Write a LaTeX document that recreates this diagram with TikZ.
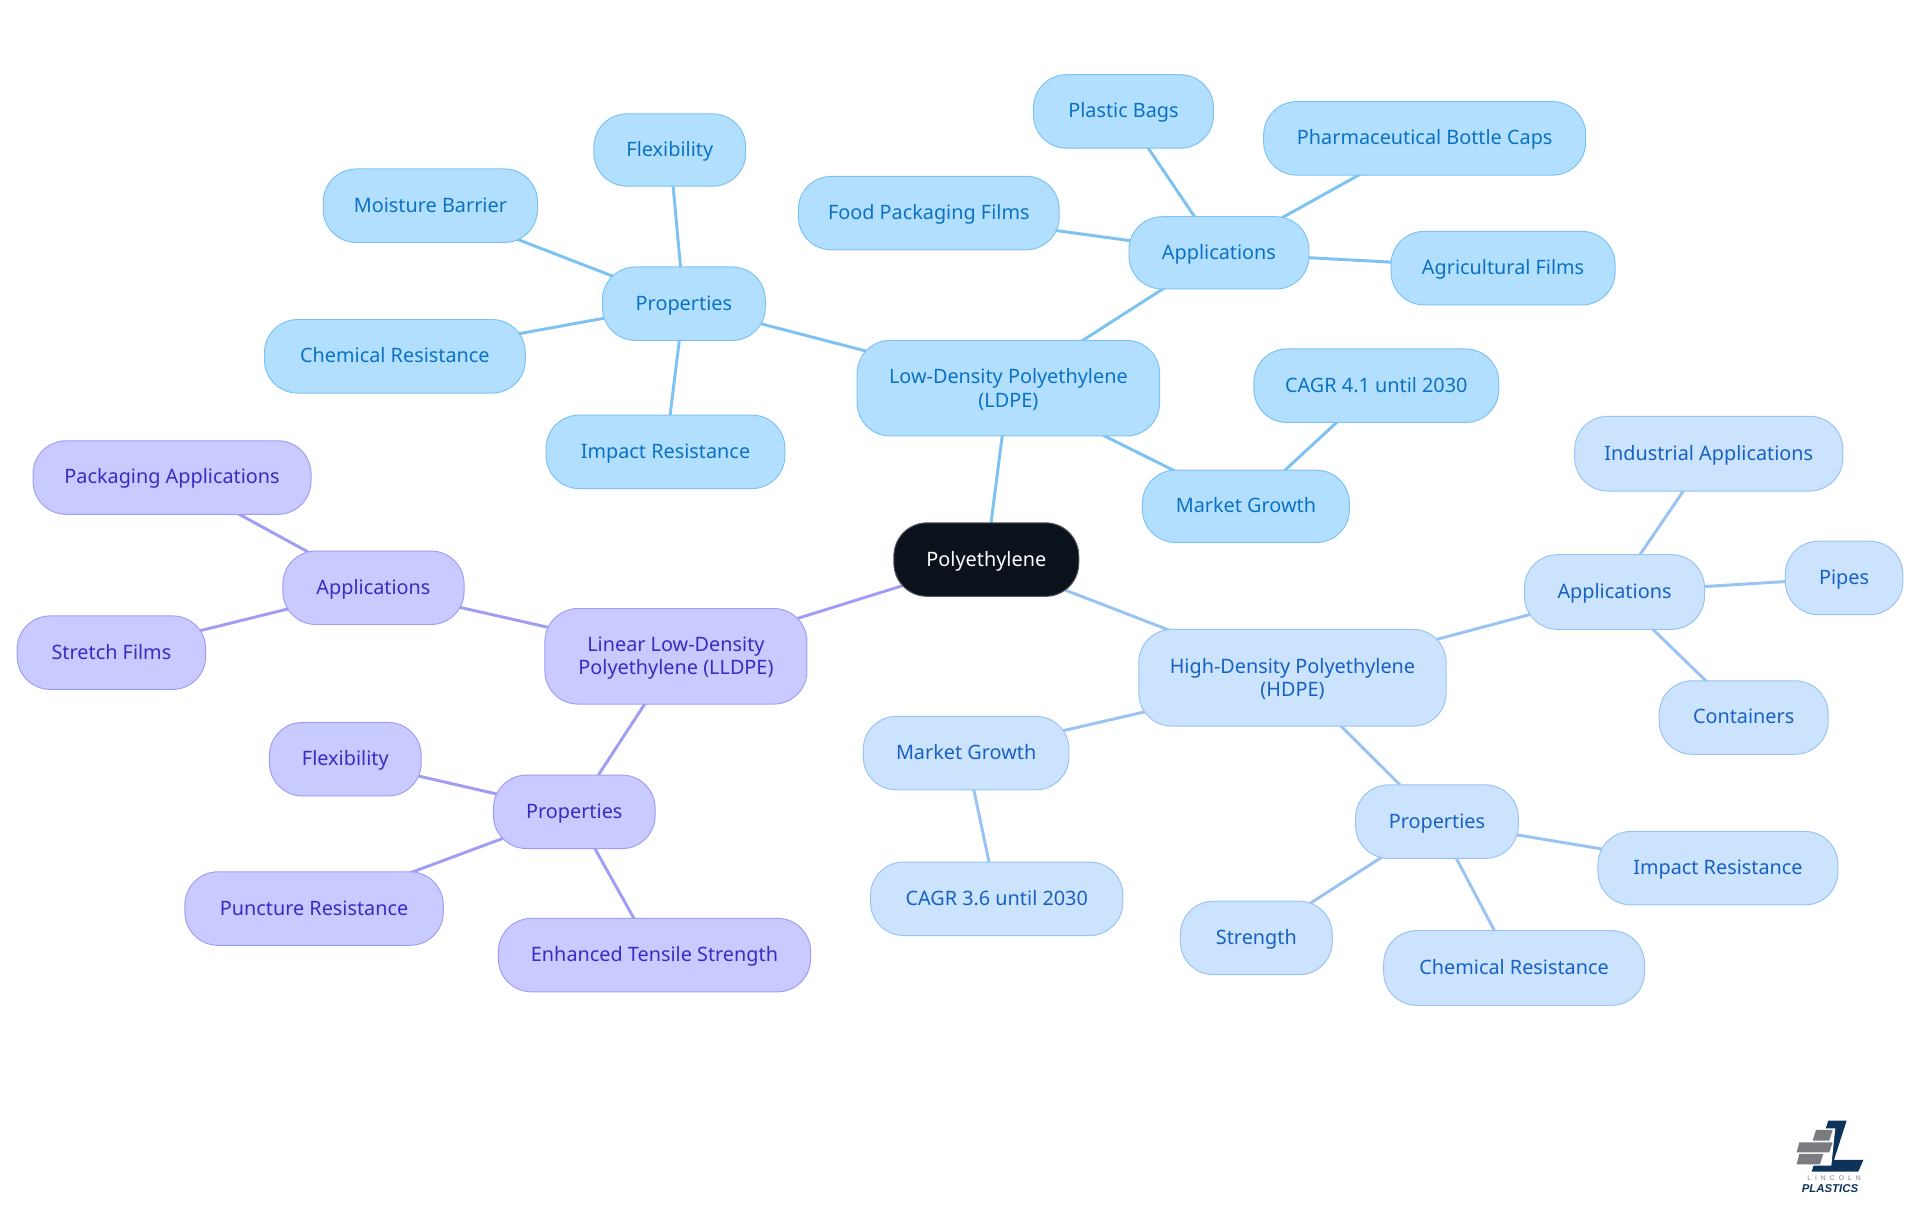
\documentclass[tikz,border=0pt]{standalone}
\usepackage{fontspec}
\setmainfont{Noto Sans}[Scale=1.0]
\newfontfamily\logofont{Liberation Sans}
\usetikzlibrary{backgrounds}
\definecolor{ldfill}{HTML}{B3DFFF}\definecolor{ldline}{HTML}{7CC2F2}\definecolor{ldtext}{HTML}{0A72C4}
\definecolor{hdfill}{HTML}{CCE3FD}\definecolor{hdline}{HTML}{99C3F2}\definecolor{hdtext}{HTML}{1761C4}
\definecolor{llfill}{HTML}{C9CAFF}\definecolor{llline}{HTML}{A09EF4}\definecolor{lltext}{HTML}{3A2BC4}
\definecolor{rootfill}{HTML}{0B121B}
\definecolor{navy}{HTML}{0E3358}\definecolor{brick}{HTML}{7A7C80}
\tikzset{
  x=1pt,y=-1pt,
  mapbox/.style={rounded corners=27pt,inner sep=0pt,align=center,font=\fontsize{16.2}{19}\selectfont,line width=0.8pt},
  ld/.style={mapbox,fill=ldfill,draw=ldline,text=ldtext},
  hd/.style={mapbox,fill=hdfill,draw=hdline,text=hdtext},
  ll/.style={mapbox,fill=llfill,draw=llline,text=lltext},
  root/.style={mapbox,fill=rootfill,draw=rootfill!70!white,text=white},
  ldedge/.style={draw=ldline,line width=2.4pt},
  hdedge/.style={draw=hdline,line width=2.4pt},
  lledge/.style={draw=llline,line width=2.4pt},
}
% name, left, top, right, bottom, style, text
\newcommand{\nd}[7]{%
  \pgfmathsetmacro{\nw}{#4-#2}\pgfmathsetmacro{\nh}{#5-#3}%
  \pgfmathsetmacro{\nx}{(#2+#4)/2}\pgfmathsetmacro{\ny}{(#3+#5)/2}%
  \node[#6,minimum width=\nw pt,minimum height=\nh pt] (#1) at (\nx,\ny) {\vphantom{(Ay}\rule{0pt}{14.4pt}#7};}
\begin{document}
\begin{tikzpicture}
\useasboundingbox (0,0) rectangle (1568,992);
\nd{root}{730}{427}{881}{487}{root}{Polyethylene}
\nd{ldpe}{700}{278}{947}{356}{ld}{Low-Density Polyethylene\\(LDPE)}
\nd{ldapp}{922}{177}{1069}{236}{ld}{Applications}
\nd{bags}{844}{61}{991}{121}{ld}{Plastic Bags}
\nd{pharma}{1032}{83}{1295}{143}{ld}{Pharmaceutical Bottle Caps}
\nd{food}{652}{144}{865}{204}{ld}{Food Packaging Films}
\nd{agri}{1136}{189}{1319}{249}{ld}{Agricultural Films}
\nd{ldmkt}{933}{384}{1102}{443}{ld}{Market Growth}
\nd{ldcagr}{1024}{285}{1224}{345}{ld}{CAGR 4.1 until 2030}
\nd{ldprop}{492}{218}{625}{278}{ld}{Properties}
\nd{ldflex}{485}{93}{609}{152}{ld}{Flexibility}
\nd{moist}{264}{138}{439}{198}{ld}{Moisture Barrier}
\nd{ldchem}{216}{261}{429}{321}{ld}{Chemical Resistance}
\nd{ldimp}{446}{339}{641}{399}{ld}{Impact Resistance}
\nd{hdpe}{930}{514}{1181}{593}{hd}{High-Density Polyethylene\\(HDPE)}
\nd{hdapp}{1245}{453}{1392}{514}{hd}{Applications}
\nd{indus}{1286}{340}{1505}{401}{hd}{Industrial Applications}
\nd{pipes}{1458}{442}{1554}{502}{hd}{Pipes}
\nd{cont}{1355}{556}{1493}{616}{hd}{Containers}
\nd{hdmkt}{705}{585}{873}{645}{hd}{Market Growth}
\nd{hdcagr}{711}{704}{917}{764}{hd}{CAGR 3.6 until 2030}
\nd{hdprop}{1107}{641}{1240}{701}{hd}{Properties}
\nd{hdimp}{1305}{679}{1501}{739}{hd}{Impact Resistance}
\nd{hdchem}{1130}{760}{1343}{821}{hd}{Chemical Resistance}
\nd{strength}{964}{736}{1088}{796}{hd}{Strength}
\nd{lldpe}{445}{497}{659}{575}{ll}{Linear Low-Density\\Polyethylene (LLDPE)}
\nd{llapp}{231}{450}{379}{510}{ll}{Applications}
\nd{pack}{27}{360}{254}{420}{ll}{Packaging Applications}
\nd{stretch}{14}{503}{168}{563}{ll}{Stretch Films}
\nd{llprop}{403}{633}{535}{693}{ll}{Properties}
\nd{llflex}{220}{590}{344}{650}{ll}{Flexibility}
\nd{punct}{151}{712}{362}{772}{ll}{Puncture Resistance}
\nd{tensile}{407}{750}{662}{810}{ll}{Enhanced Tensile Strength}
\begin{scope}[on background layer]
\foreach \a/\b in {root/ldpe,ldpe/ldapp,ldapp/bags,ldapp/pharma,ldapp/food,ldapp/agri,ldpe/ldmkt,ldmkt/ldcagr,ldpe/ldprop,ldprop/ldflex,ldprop/moist,ldprop/ldchem,ldprop/ldimp}
  \draw[ldedge] (\a.center) -- (\b.center);
\foreach \a/\b in {root/hdpe,hdpe/hdapp,hdapp/indus,hdapp/pipes,hdapp/cont,hdpe/hdmkt,hdmkt/hdcagr,hdpe/hdprop,hdprop/hdimp,hdprop/hdchem,hdprop/strength}
  \draw[hdedge] (\a.center) -- (\b.center);
\foreach \a/\b in {root/lldpe,lldpe/llapp,llapp/pack,llapp/stretch,lldpe/llprop,llprop/llflex,llprop/punct,llprop/tensile}
  \draw[lledge] (\a.center) -- (\b.center);
\end{scope}
\begin{scope}[shift={(1437.3,898.3)},x=0.2722pt,y=-0.2722pt]
\fill[navy] (205,62) -- (260,62) -- (222,180) -- (310,180) -- (295,215) -- (155,215) -- cycle;
\fill[white] (150,85) -- (226,85) -- (214,197) -- (104,197) -- (112,123) -- (155,123) -- cycle;
\fill[brick] (168,90) -- (218,90) -- (208,122) -- (158,122) -- cycle;
\fill[brick] (118,127) -- (218,127) -- (208,157) -- (110,157) -- cycle;
\fill[brick] (118,162) -- (190,162) -- (180,193) -- (110,193) -- cycle;
\node[text=brick,font=\logofont\fontsize{5.5}{6}\selectfont\addfontfeature{LetterSpace=60}] (logoa) at (222,236) {LINCOLN};
\node[text=navy,font=\logofont\bfseries\itshape\fontsize{9.3}{12}\selectfont] (logob) at (210,266) {PLASTICS};
\end{scope}
\end{tikzpicture}
\end{document}
